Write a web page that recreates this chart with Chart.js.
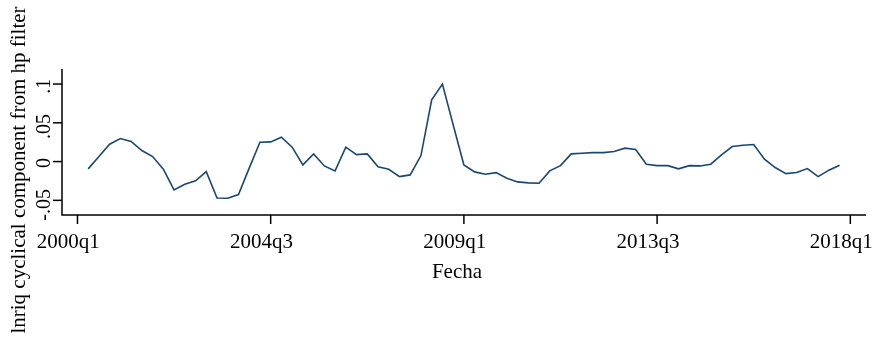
<!DOCTYPE html>
<html>
<head>
<meta charset="utf-8">
<script src="https://cdn.jsdelivr.net/npm/chart.js@4/dist/chart.umd.min.js"></script>
<style>
  html, body { margin: 0; padding: 0; background: #ffffff; }
  #wrap { width: 880px; height: 344px; }
</style>
</head>
<body>
<div id="wrap"><canvas id="c" width="880" height="344"></canvas></div>
<script>
// Quarterly periods of the series
const periods = [
  '2000q2','2000q3','2000q4',
  '2001q1','2001q2','2001q3','2001q4',
  '2002q1','2002q2','2002q3','2002q4',
  '2003q1','2003q2','2003q3','2003q4',
  '2004q1','2004q2','2004q3','2004q4',
  '2005q1','2005q2','2005q3','2005q4',
  '2006q1','2006q2','2006q3','2006q4',
  '2007q1','2007q2','2007q3','2007q4',
  '2008q1','2008q2','2008q3','2008q4',
  '2009q1','2009q2','2009q3','2009q4',
  '2010q1','2010q2','2010q3','2010q4',
  '2011q1','2011q2','2011q3','2011q4',
  '2012q1','2012q2','2012q3','2012q4',
  '2013q1','2013q2','2013q3','2013q4',
  '2014q1','2014q2','2014q3','2014q4',
  '2015q1','2015q2','2015q3','2015q4',
  '2016q1','2016q2','2016q3','2016q4',
  '2017q1','2017q2','2017q3','2017q4'
];

// Cyclical component of lnriq (HP filter)
const cycle = [
  -0.0094, 0.0065, 0.0224,
  0.0297, 0.0259, 0.0142, 0.0065,
  -0.0099, -0.0366, -0.0293, -0.0249,
  -0.0129, -0.0469, -0.0473, -0.0426,
  -0.0085, 0.0250, 0.0254, 0.0315,
  0.0186, -0.0043, 0.0099, -0.0056,
  -0.0120, 0.0186, 0.0090, 0.0099,
  -0.0068, -0.0099, -0.0194, -0.0172,
  0.0078, 0.0797, 0.1000, 0.0474,
  -0.0043, -0.0133, -0.0163, -0.0142,
  -0.0215, -0.0262, -0.0275, -0.0279,
  -0.0120, -0.0052, 0.0099, 0.0108,
  0.0116, 0.0116, 0.0129, 0.0173,
  0.0155, -0.0034, -0.0052, -0.0052,
  -0.0094, -0.0052, -0.0056, -0.0034,
  0.0086, 0.0194, 0.0211, 0.0220,
  0.0031, -0.0077, -0.0155, -0.0142,
  -0.0090, -0.0194, -0.0111, -0.0047
];

// Axis ticks
const xTickLabels = ['2000q1', '2004q3', '2009q1', '2013q3', '2018q1'];
const yTickValues = [-0.05, 0, 0.05, 0.1];
const yTickLabels = ['-.05', '0', '.05', '.1'];

const xTitle = 'Fecha';
const yTitle = 'lnriq cyclical component from hp filter';

// "2004q3" -> quarters elapsed since 2000q1
function quarterIndex(label) {
  const year = parseInt(label.slice(0, 4), 10);
  const q = parseInt(label.slice(5), 10);
  return (year - 2000) * 4 + (q - 1);
}

const points = periods.map((p, i) => ({ x: quarterIndex(p), y: cycle[i] }));

const FONT = '21px "Liberation Serif", "Times New Roman", serif';
const TICK_FONT = '20px "Liberation Serif", "Times New Roman", serif';

// Axes, ticks and titles drawn in the Stata style
const stataAxes = {
  id: 'stataAxes',
  afterDraw(chart) {
    const { ctx, chartArea: a, scales: { x, y } } = chart;
    ctx.save();
    ctx.strokeStyle = '#000';
    ctx.fillStyle = '#000';
    ctx.lineWidth = 1.5;

    // axis lines
    ctx.beginPath();
    ctx.moveTo(a.left, a.top);
    ctx.lineTo(a.left, a.bottom);
    ctx.lineTo(a.right, a.bottom);
    ctx.stroke();

    // x ticks and labels
    ctx.font = FONT;
    ctx.textAlign = 'center';
    ctx.textBaseline = 'alphabetic';
    xTickLabels.forEach(lbl => {
      const px = x.getPixelForValue(quarterIndex(lbl));
      ctx.beginPath();
      ctx.moveTo(px, a.bottom);
      ctx.lineTo(px, a.bottom + 9);
      ctx.stroke();
      const w = ctx.measureText(lbl).width;
      ctx.fillText(lbl, px - 0.145 * w, a.bottom + 32.5);
    });

    // y ticks and rotated labels
    ctx.font = TICK_FONT;
    yTickValues.forEach((v, i) => {
      const py = y.getPixelForValue(v);
      ctx.beginPath();
      ctx.moveTo(a.left, py);
      ctx.lineTo(a.left - 9, py);
      ctx.stroke();
      const lbl = yTickLabels[i];
      const w = ctx.measureText(lbl).width;
      ctx.save();
      ctx.translate(a.left - 12, py);
      ctx.rotate(-Math.PI / 2);
      ctx.fillText(lbl, -0.145 * w, 0);
      ctx.restore();
    });

    // x title
    ctx.font = FONT;
    ctx.fillText(xTitle, (a.left + a.right) / 2 - 7, a.bottom + 62.5);

    // y title
    ctx.save();
    ctx.translate(24.5, 170);
    ctx.rotate(-Math.PI / 2);
    ctx.fillText(yTitle, 0, 0);
    ctx.restore();

    ctx.restore();
  }
};

new Chart(document.getElementById('c'), {
  type: 'line',
  data: {
    datasets: [{
      data: points,
      borderColor: '#1a476f',
      borderWidth: 1.6,
      pointRadius: 0,
      tension: 0,
      fill: false
    }]
  },
  options: {
    responsive: false,
    animation: false,
    devicePixelRatio: 1,
    layout: { padding: { left: 62, right: 14, top: 69, bottom: 129 } },
    scales: {
      x: { type: 'linear', min: -1.44, max: 73.46, display: false },
      y: { type: 'linear', min: -0.0689, max: 0.1194, display: false }
    },
    plugins: {
      legend: { display: false },
      tooltip: { enabled: false }
    }
  },
  plugins: [stataAxes]
});
</script>
</body>
</html>
